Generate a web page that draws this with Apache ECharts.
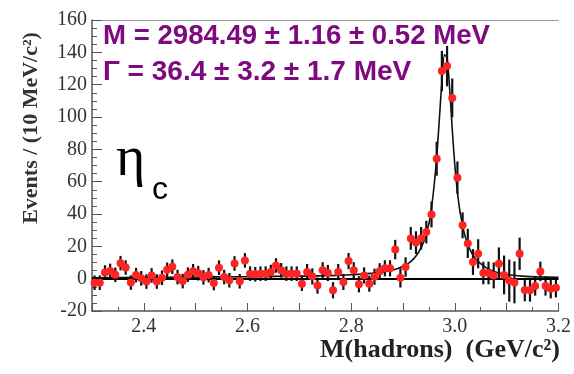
<!DOCTYPE html>
<html>
<head>
<meta charset="utf-8">
<script src="https://cdn.jsdelivr.net/npm/echarts@6/dist/echarts.min.js"></script>
<style>
html,body{margin:0;padding:0;background:#fff;}
#c{width:574px;height:374px;}
</style>
</head>
<body>
<div id="c"></div>
<script>
// Histogram binning (10 MeV bins from 2.30 to 3.20 GeV)
var BIN_LO = 2.30;
var BIN_WIDTH = 0.01;

// Events per bin
var events = [
  -2.5, -2.5, 3.8, 4.8, 2.4, 9.6, 6.9, -2.4, 2.2, 0.2,
  -1.8, 2.0, -1.8, 0.6, 5.5, 7.4, 1.0, -1.5, 2.5, 4.6,
  3.4, 0.8, 2.2, -2.7, 6.8, 1.0, -1.0, 9.4, -1.6, 11.3,
  3.1, 2.7, 3.1, 3.1, 4.1, 8.2, 5.2, 3.1, 3.1, 3.1,
  -3.1, 4.1, 1.4, -4.3, 5.2, 3.5, -7.2, 4.1, -2.0, 10.9,
  5.2, -3.5, 2.0, -3.1, 1.2, 4.6, 6.4, 6.4, 18.0, 0.5,
  7.2, 24.9, 22.3, 25.0, 28.8, 39.7, 74.2, 128.4, 131.5, 111.8,
  62.5, 33.0, 21.8, 10.3, 15.4, 3.5, 3.5, 2.0, 9.3, 2.3,
  -1.2, -2.3, 15.4, -7.0, -7.2, -4.5, 4.5, -4.5, -6.2, -5.6
];

// Error-bar half lengths per bin
var errors = [
  4.5, 4.5, 4.5, 4.5, 4.5, 4.5, 4.5, 4.5, 4.5, 4.5,
  4.5, 4.5, 4.5, 4.5, 4.5, 4.5, 4.5, 4.5, 4.5, 4.5,
  4.5, 4.5, 4.5, 4.5, 4.5, 4.5, 4.5, 4.5, 4.5, 4.5,
  4.5, 4.5, 4.5, 4.5, 4.5, 4.5, 4.5, 4.5, 4.5, 4.5,
  4.5, 5, 5, 5, 5, 5, 5, 5, 5, 5,
  5, 5, 5, 5, 5, 5, 5, 5, 6, 6,
  6, 7, 7, 7, 7, 8, 10.5, 12.5, 12.5, 12,
  10, 8, 9, 8, 9, 7, 7, 8, 10, 12,
  13, 13, 10, 7, 7, 6, 6, 6, 6, 6
];

// Fit curve
var fitX = [2.30, 2.40, 2.50, 2.60, 2.70, 2.76, 2.80, 2.84, 2.87, 2.89,
            2.91, 2.92, 2.93, 2.94, 2.95, 2.955, 2.96, 2.965, 2.97, 2.975,
            2.98, 2.985, 2.99, 2.995, 3.00, 3.005, 3.01, 3.02, 3.03, 3.04,
            3.06, 3.08, 3.10, 3.13, 3.16, 3.20];
var fitY = [0.6, 0.8, 1.0, 1.2, 1.6, 1.9, 2.4, 3.3, 4.6, 6.3,
            9.4, 12.1, 16.3, 22.9, 34.0, 44.0, 57.5, 75.0, 98.0, 122.0,
            138.5, 136.5, 117.5, 92.5, 70.0, 53.5, 41.5, 26.0, 17.5, 12.3,
            6.8, 4.0, 2.6, 1.6, 1.1, 0.8];

// Tick labels
var xTickLabels = ['2.4', '2.6', '2.8', '3.0', '3.2'];
var yTickLabels = ['-20', '0', '20', '40', '60', '80', '100', '120', '140', '160'];

// Text
var yTitle = 'Events / (10 MeV/c\u00B2)';
var xTitle = 'M(hadrons)  (GeV/c\u00B2)';
var massText = 'M = 2984.49 \u00B1 1.16 \u00B1 0.52 MeV';
var widthText = '\u0393 = 36.4 \u00B1 3.2 \u00B1 1.7 MeV';

var pts = [], bars = [];
for (var i = 0; i < events.length; i++) {
  var x = BIN_LO + BIN_WIDTH * (i + 0.5);
  pts.push([x, events[i]]);
  bars.push([x, events[i] - errors[i], events[i] + errors[i]]);
}
var fit = fitX.map(function (x, k) { return [x, fitY[k]]; });

var chart = echarts.init(document.getElementById('c'), null, {renderer: 'canvas'});
var serif = '"Liberation Serif", "Times New Roman", serif';
var sans = '"Liberation Sans", Arial, sans-serif';

chart.setOption({
  animation: false,
  backgroundColor: '#fff',
  grid: {left: 92, right: 6, top: 20, bottom: 63, containLabel: false},
  xAxis: [{
    type: 'value', min: 2.3, max: 3.2, interval: 0.1,
    axisLine: {show: true, onZero: false, lineStyle: {color: '#555', width: 1.5}},
    axisTick: {show: true, inside: true, length: 8, lineStyle: {color: '#555', width: 1}},
    minorTick: {show: true, splitNumber: 2, length: 4, lineStyle: {color: '#555', width: 1}},
    splitLine: {show: false},
    axisLabel: {
      show: true, margin: 6, color: '#333', fontFamily: serif, fontSize: 20,
      showMaxLabel: true, showMinLabel: true,
      formatter: function (v) {
        var s = v.toFixed(1);
        return xTickLabels.indexOf(s) >= 0 ? s : '';
      }
    }
  }, {
    type: 'value', min: 2.3, max: 3.2, position: 'top',
    axisLine: {show: true, onZero: false, lineStyle: {color: '#999', width: 1}},
    axisTick: {show: false}, axisLabel: {show: false}, splitLine: {show: false}
  }],
  yAxis: {
    type: 'value', min: -20, max: 160, interval: 20,
    axisLine: {show: true, onZero: false, lineStyle: {color: '#555', width: 1.5}},
    axisTick: {show: true, inside: true, length: 10, lineStyle: {color: '#555', width: 1}},
    minorTick: {show: true, splitNumber: 4, length: 5, lineStyle: {color: '#555', width: 1}},
    splitLine: {show: false},
    axisLabel: {
      show: true, margin: 5, color: '#333', fontFamily: serif, fontSize: 20,
      formatter: function (v) {
        var s = String(Math.round(v));
        return yTickLabels.indexOf(s) >= 0 ? s : '';
      }
    }
  },
  series: [{
    type: 'line', data: fit, showSymbol: false, smooth: 0.25,
    lineStyle: {color: '#111', width: 1.6}, z: 3,
    markLine: {
      silent: true, symbol: 'none', label: {show: false},
      lineStyle: {color: '#000', width: 2.2, type: 'solid'},
      data: [{yAxis: 0}]
    }
  }, {
    type: 'custom', data: bars, z: 4,
    renderItem: function (params, api) {
      var a = api.coord([api.value(0), api.value(1)]);
      var b = api.coord([api.value(0), api.value(2)]);
      return {type: 'line', shape: {x1: a[0], y1: a[1], x2: b[0], y2: b[1]},
        style: {stroke: '#111', lineWidth: 2.2}};
    }
  }, {
    type: 'scatter', data: pts, symbol: 'circle', symbolSize: 8, z: 5,
    itemStyle: {color: '#ff2424', opacity: 1}
  }],
  graphic: [{
    type: 'text', x: 31, y: 128, rotation: Math.PI / 2,
    style: {text: yTitle, font: 'bold 22px ' + serif, fill: '#333', align: 'center', verticalAlign: 'middle'}
  }, {
    type: 'text', x: 440, y: 350,
    style: {text: xTitle, font: 'bold 26px ' + serif, fill: '#222', align: 'center', verticalAlign: 'middle'}
  }, {
    type: 'text', x: 103, y: 36,
    style: {text: massText, font: 'bold 27.6px ' + sans, fill: '#7f0a80', align: 'left', verticalAlign: 'middle'}
  }, {
    type: 'text', x: 103, y: 72,
    style: {text: widthText, font: 'bold 28px ' + sans, fill: '#7f0a80', align: 'left', verticalAlign: 'middle'}
  }, {
    type: 'text', x: 116, y: 160,
    style: {text: '\u03B7', font: '56px ' + serif, fill: '#000', align: 'left', verticalAlign: 'middle'}
  }, {
    type: 'text', x: 152, y: 190,
    style: {text: 'c', font: '32px ' + sans, fill: '#000', align: 'left', verticalAlign: 'middle'}
  }]
});
</script>
</body>
</html>
